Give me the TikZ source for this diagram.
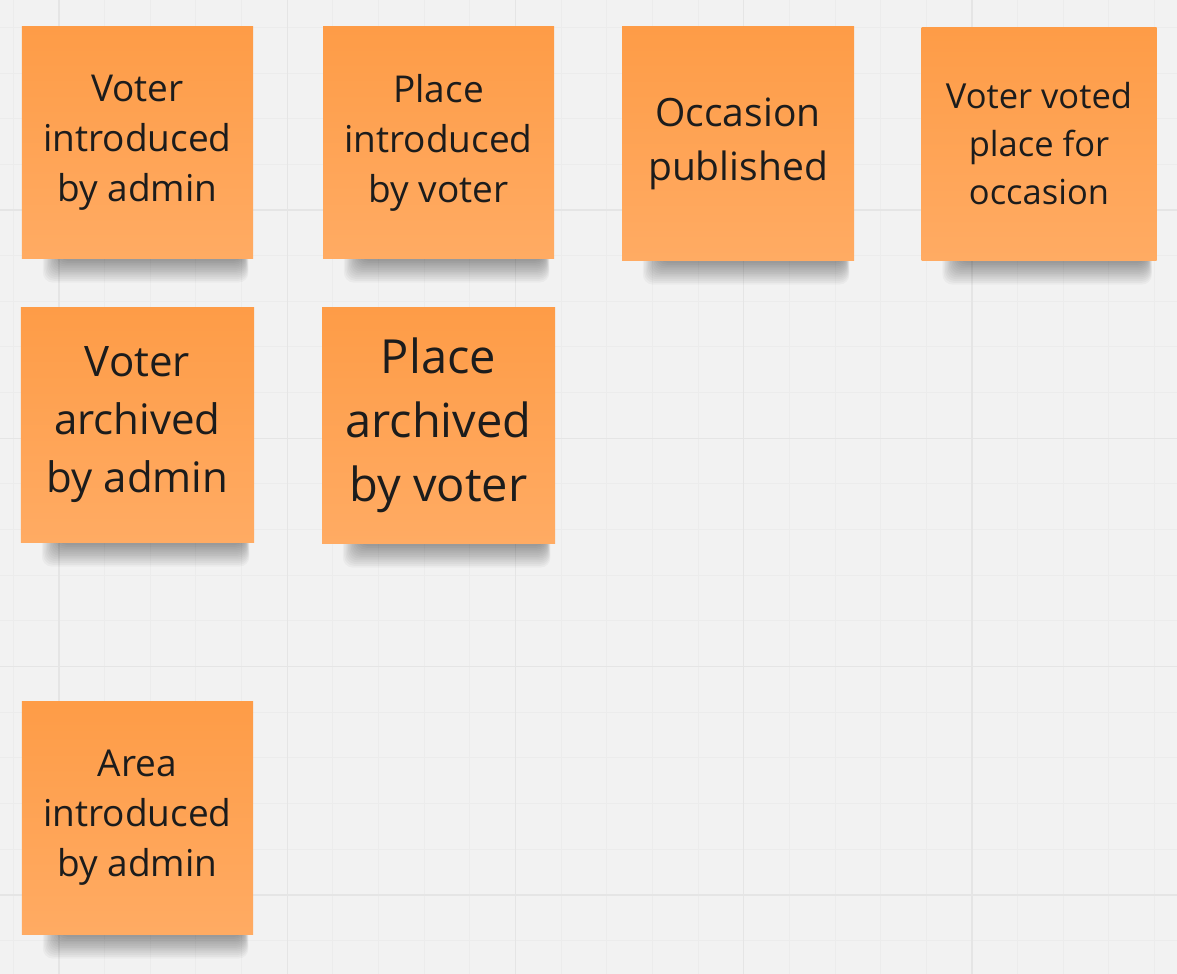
\documentclass[tikz,border=0pt]{standalone}
\usepackage{fontspec}
\setmainfont{Open Sans}
\usetikzlibrary{calc}
\pgfdeclarelayer{bg}
\pgfdeclarelayer{shd}
\pgfsetlayers{bg,shd,main}
\definecolor{board}{HTML}{F2F2F2}
\definecolor{gridminor}{HTML}{ECECEC}
\definecolor{gridmajor}{HTML}{E5E5E5}
\definecolor{notetop}{HTML}{FE9C47}
\definecolor{notebot}{HTML}{FFAB63}
\definecolor{ink}{HTML}{1C1C1C}
\tikzset{
  sticky/.style={rectangle, inner sep=0pt, minimum width=231bp, minimum height=231bp,
    top color=notetop, bottom color=notebot, text=ink, align=center,
    font=\fontsize{37bp}{50bp}\selectfont},
  minorline/.style={draw=gridminor, line width=1bp},
  majorline/.style={draw=gridmajor, line width=1.3bp},
  shadowpart/.style={fill=black, opacity=0.032, rounded corners=10bp},
}
\newcommand\noteshade[1]{%
  \begin{pgfonlayer}{shd}
    \foreach \k in {0,...,13}{
      \path[shadowpart] ($(#1.south west)+(38-\k*1.3,-14)$) rectangle ($(#1.south east)+(-10+\k*0.4,1+\k*1.8)$);
    }
  \end{pgfonlayer}}
\begin{document}
\begin{tikzpicture}[x=1bp,y=-1bp]
\useasboundingbox (0,0) rectangle (1177,974);
\begin{pgfonlayer}{bg}
  \fill[board] (0,0) rectangle (1177,974);
  \foreach \i in {0,...,25}{
    \path[minorline] (13.35+\i*45.65,0) -- (13.35+\i*45.65,974);
  }
  \foreach \i in {0,...,20}{
    \path[minorline] (0,27.4+\i*45.65) -- (1177,27.4+\i*45.65);
  }
  \foreach \k in {0,...,4}{
    \path[majorline] (59+\k*228.25,0) -- (59+\k*228.25,974);
  }
  \foreach \k in {0,...,3}{
    \path[majorline] (0,210+\k*228.3) -- (1177,210+\k*228.3);
  }
\end{pgfonlayer}

\node[sticky] (vi) at (137.5,142.5) {Voter\\introduced\\by admin};
\node[sticky] (pi) at (438.5,142.5) {Place\\introduced\\by voter};
\node[sticky, minimum width=232bp, minimum height=233bp, font=\fontsize{39bp}{54bp}\selectfont] (op) at (738,143.5) {Occasion\\published};
\node[sticky, minimum width=235bp, minimum height=232bp, font=\fontsize{34.5bp}{48bp}\selectfont] (vv) at (1039,144) {Voter voted\\place for\\occasion};
\node[sticky, minimum width=233bp, minimum height=235bp, font=\fontsize{42bp}{58bp}\selectfont] (va) at (137.5,424.5) {Voter\\archived\\by admin};
\node[sticky, minimum width=233bp, minimum height=236bp, font=\fontsize{47bp}{64bp}\selectfont] (pa) at (438.5,425) {Place\\archived\\by voter};
\node[sticky, minimum height=233bp] (ai) at (137.5,817.5) {Area\\introduced\\by admin};

\noteshade{vi}
\noteshade{pi}
\noteshade{op}
\noteshade{vv}
\noteshade{va}
\noteshade{pa}
\noteshade{ai}
\end{tikzpicture}
\end{document}
